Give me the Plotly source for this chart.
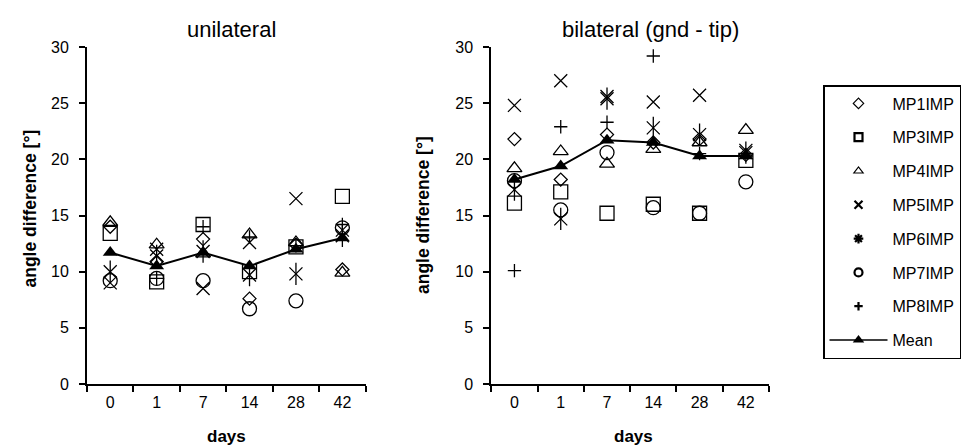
import plotly.graph_objects as go

W, H = 973, 446

days = ["0", "1", "7", "14", "28", "42"]
series_names = ["MP1IMP", "MP3IMP", "MP4IMP", "MP5IMP", "MP6IMP", "MP7IMP", "MP8IMP"]

# unilateral
uni_mp1 = [14.0, 10.9, 12.9, 7.6, 12.4, 10.2]
uni_mp3 = [13.4, 9.1, 14.2, 10.0, 12.2, 16.7]
uni_mp4 = [14.4, 12.4, 11.6, 13.3, 12.6, 9.9]
uni_mp5 = [9.0, 12.0, 8.5, 12.6, 16.5, 13.7]
uni_mp6 = [10.0, 11.4, 11.8, 9.7, 9.8, 13.2]
uni_mp7 = [9.2, 9.4, 9.2, 6.7, 7.4, 13.9]
uni_mp8 = [None, 9.4, 14.0, 13.1, 12.3, 14.2]
uni_mean = [11.7, 10.5, 11.7, 10.5, 12.0, 13.0]

# bilateral (gnd - tip)
bi_mp1 = [21.8, 18.2, 22.2, 21.5, 21.8, 20.4]
bi_mp3 = [16.1, 17.1, 15.2, 16.0, 15.2, 19.9]
bi_mp4 = [19.2, 20.7, 19.6, 20.9, 21.5, 22.6]
bi_mp5 = [24.8, 27.0, 25.6, 25.1, 25.7, 20.8]
bi_mp6 = [17.3, 14.7, 25.4, 22.8, 22.2, 20.6]
bi_mp7 = [18.1, 15.5, 20.6, 15.7, 15.2, 18.0]
bi_mp8 = [10.1, 22.9, 23.3, 29.2, 20.5, None]
bi_mean = [18.2, 19.4, 21.7, 21.5, 20.3, 20.3]

uni_series = [uni_mp1, uni_mp3, uni_mp4, uni_mp5, uni_mp6, uni_mp7, uni_mp8]
bi_series = [bi_mp1, bi_mp3, bi_mp4, bi_mp5, bi_mp6, bi_mp7, bi_mp8]

# plot symbols (MP6 = X with a vertical bar, drawn as two overlaid symbols)
plot_symbols = [["diamond-open"], ["square-open"], ["triangle-up-open"], ["x-thin-open"],
                ["x-thin-open", "line-ns-open"], ["circle-open"], ["cross-thin-open"]]
plot_sizes = [10, 14, 13, 13, 13, 14, 9.5]
legend_symbols = ["diamond-open", "square-open", "triangle-up-open", "x-thin-open",
                  "asterisk-open", "circle-open", "cross-thin-open"]
legend_sizes = [8, 8, 8, 8, 8, 8, 6]
legend_lw = [1.2, 2.2, 1.2, 2.2, 2.2, 2.2, 2.2]

FONT = "Arial, Liberation Sans, sans-serif"
fig = go.Figure()

for panel, (data, mean, xa, ya) in enumerate([(uni_series, uni_mean, "x", "y"),
                                              (bi_series, bi_mean, "x2", "y2")]):
    for name, vals, syms, sz in zip(series_names, data, plot_symbols, plot_sizes):
        for sym in syms:
            fig.add_trace(go.Scatter(
                x=days, y=vals, mode="markers", name=name, legendgroup=name,
                showlegend=False, xaxis=xa, yaxis=ya,
                marker=dict(symbol=sym, size=(16 if sym == "line-ns-open" else sz),
                            color="black", line=dict(color="black", width=1.3)),
            ))
    fig.add_trace(go.Scatter(
        x=days, y=mean, mode="lines+markers", name="Mean", legendgroup="Mean",
        showlegend=False, xaxis=xa, yaxis=ya,
        line=dict(color="black", width=2),
        marker=dict(symbol="triangle-up", size=13, color="black"),
    ))

# legend entries (legend-only traces with small symbols, no data drawn)
for name, sym, sz, lw in zip(series_names, legend_symbols, legend_sizes, legend_lw):
    fig.add_trace(go.Scatter(
        x=[None], y=[None], mode="markers", name=name, legendgroup=name,
        showlegend=True, xaxis="x", yaxis="y",
        marker=dict(symbol=sym, size=sz, color="black",
                    line=dict(color="black", width=lw)),
    ))
fig.add_trace(go.Scatter(
    x=[None], y=[None], mode="lines+markers", name="Mean", legendgroup="Mean",
    showlegend=True, xaxis="x", yaxis="y",
    line=dict(color="black", width=1.5),
    marker=dict(symbol="triangle-up", size=10, color="black"),
))

def px_x(p):
    return p / W

def px_y(p):
    return 1 - p / H

ydom = [px_y(376), px_y(39)]
xcommon = dict(type="category", categoryorder="array", categoryarray=days,
               range=[-0.5, 5.5], showline=True, linecolor="black", linewidth=2,
               ticks="outside", tickson="boundaries", ticklen=6, tickwidth=2,
               tickcolor="black", showgrid=False, zeroline=False,
               tickfont=dict(size=16, color="black", family=FONT),
               ticklabelstandoff=3, automargin=False, fixedrange=True)
ycommon = dict(range=[0, 30], dtick=5, tick0=0, showline=True, linecolor="black",
               linewidth=2, ticks="outside", ticklen=6, tickwidth=2,
               tickcolor="black", showgrid=False, zeroline=False,
               tickfont=dict(size=16, color="black", family=FONT),
               ticklabelstandoff=7, automargin=False, fixedrange=True, domain=ydom)

fig.update_layout(
    width=W, height=H,
    margin=dict(l=0, r=0, t=0, b=0),
    paper_bgcolor="white", plot_bgcolor="white",
    font=dict(family=FONT, color="black", size=16),
    xaxis=dict(xcommon, domain=[px_x(79), px_x(357.6)], anchor="y"),
    yaxis=dict(ycommon, anchor="x"),
    xaxis2=dict(xcommon, domain=[px_x(483.3), px_x(761)], anchor="y2"),
    yaxis2=dict(ycommon, anchor="x2"),
    legend=dict(x=px_x(815), y=px_y(77), xanchor="left", yanchor="top",
                bordercolor="black", borderwidth=1.5, bgcolor="white",
                font=dict(size=16, family=FONT, color="black"),
                tracegroupgap=10, itemwidth=58),
    showlegend=True,
)

annots = [
    dict(text="unilateral", x=px_x(223), y=px_y(21), font=dict(size=22)),
    dict(text="bilateral (gnd - tip)", x=px_x(642.5), y=px_y(21), font=dict(size=22)),
    dict(text="<b>angle difference [°]</b>", x=px_x(21.5), y=px_y(201),
         textangle=-90, font=dict(size=17.5)),
    dict(text="<b>angle difference [°]</b>", x=px_x(415), y=px_y(207),
         textangle=-90, font=dict(size=17.5)),
    dict(text="<b>days</b>", x=px_x(218), y=px_y(428), font=dict(size=17)),
    dict(text="<b>days</b>", x=px_x(625), y=px_y(428), font=dict(size=17)),
]
for a in annots:
    fig.add_annotation(xref="paper", yref="paper", showarrow=False,
                       xanchor="center", yanchor="middle", **a)

fig.write_html("out.html")
